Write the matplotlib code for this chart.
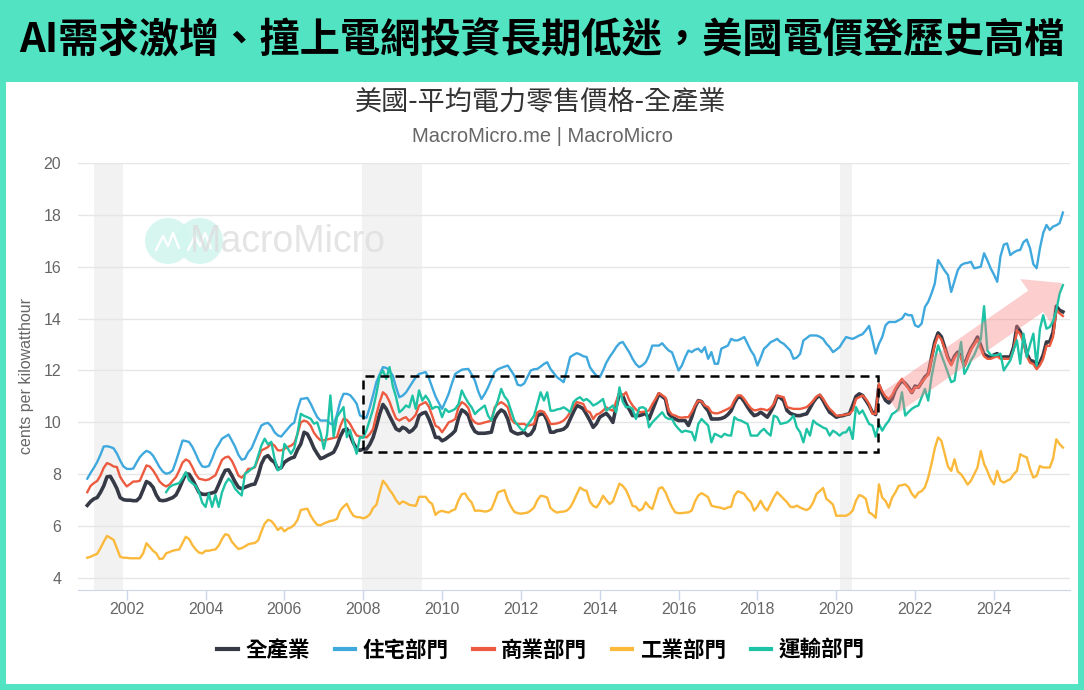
import matplotlib
matplotlib.use('Agg')
import matplotlib.pyplot as plt
from matplotlib.patches import Rectangle, Polygon, Ellipse
from matplotlib.lines import Line2D
from matplotlib.font_manager import FontProperties
import numpy as np

# monthly series, Jan 2001 .. Oct 2025 (cents per kWh), one year per row
total = [
    6.80, 6.95, 7.05, 7.10, 7.30, 7.55, 7.90, 7.92, 7.70, 7.45, 7.10, 7.02,
    7.00, 7.00, 6.98, 6.98, 7.10, 7.40, 7.72, 7.65, 7.50, 7.20, 7.00, 6.98,
    7.00, 7.05, 7.10, 7.20, 7.45, 7.75, 8.02, 8.00, 7.80, 7.55, 7.30, 7.23,
    7.22, 7.25, 7.28, 7.32, 7.60, 7.90, 8.15, 8.17, 7.95, 7.70, 7.50, 7.44,
    7.50, 7.55, 7.60, 7.62, 7.95, 8.40, 8.65, 8.72, 8.55, 8.46, 8.20, 8.25,
    8.46, 8.55, 8.62, 8.66, 8.95, 9.17, 9.62, 9.55, 9.30, 9.00, 8.79, 8.60,
    8.65, 8.72, 8.78, 8.85, 9.10, 9.45, 9.70, 9.75, 9.50, 9.20, 8.98, 8.92,
    8.97, 8.97, 9.15, 9.42, 9.85, 10.32, 10.69, 10.52, 10.25, 10.00, 9.75, 9.68,
    9.81, 9.75, 9.62, 9.70, 9.85, 10.26, 10.35, 10.39, 10.13, 9.80, 9.42, 9.42,
    9.29, 9.35, 9.45, 9.55, 9.68, 10.17, 10.48, 10.40, 10.26, 9.87, 9.65, 9.58,
    9.58, 9.58, 9.60, 9.62, 10.13, 10.35, 10.48, 10.40, 10.13, 9.68, 9.60, 9.55,
    9.58, 9.62, 9.49, 9.55, 9.74, 10.25, 10.32, 10.32, 10.07, 9.62, 9.62, 9.68,
    9.70, 9.74, 9.85, 10.13, 10.40, 10.65, 10.60, 10.52, 10.30, 10.07, 9.81, 9.95,
    10.20, 10.28, 10.35, 10.20, 10.00, 10.60, 11.10, 11.03, 10.71, 10.50, 10.26, 10.26,
    10.26, 10.30, 10.35, 10.13, 10.45, 10.78, 11.10, 11.00, 10.90, 10.33, 10.20, 10.13,
    10.07, 10.07, 10.07, 9.88, 10.20, 10.59, 10.84, 10.80, 10.60, 10.45, 10.13, 10.13,
    10.13, 10.15, 10.20, 10.30, 10.45, 10.75, 10.97, 10.97, 10.80, 10.59, 10.40, 10.26,
    10.30, 10.39, 10.30, 10.20, 10.40, 10.65, 11.00, 10.95, 10.84, 10.46, 10.35, 10.30,
    10.26, 10.26, 10.30, 10.33, 10.55, 10.78, 10.95, 11.04, 10.84, 10.60, 10.39, 10.30,
    10.20, 10.24, 10.26, 10.30, 10.33, 10.65, 11.00, 11.10, 11.04, 10.85, 10.65, 10.39,
    10.30, 11.42, 11.10, 10.85, 10.75, 10.90, 11.25, 11.45, 11.61, 11.50, 11.35, 11.15,
    11.40, 11.35, 11.55, 11.75, 11.87, 12.50, 13.10, 13.45, 13.30, 12.90, 12.50, 12.26,
    12.55, 12.71, 12.55, 12.20, 12.55, 12.85, 13.05, 13.29, 12.95, 12.62, 12.55, 12.50,
    12.60, 12.65, 12.52, 12.52, 12.52, 12.52, 12.90, 13.70, 13.50, 13.20, 12.65, 12.39,
    12.35, 12.13, 12.30, 12.60, 13.10, 13.10, 13.48, 14.48, 14.32, 14.26,
]

residential = [
    7.83, 8.05, 8.25, 8.47, 8.75, 9.07, 9.08, 9.05, 9.00, 8.80, 8.53, 8.30,
    8.21, 8.20, 8.22, 8.45, 8.66, 8.80, 8.90, 8.85, 8.72, 8.50, 8.27, 8.10,
    8.02, 8.05, 8.15, 8.50, 8.90, 9.30, 9.28, 9.24, 9.05, 8.79, 8.50, 8.30,
    8.28, 8.32, 8.60, 8.94, 9.15, 9.37, 9.45, 9.53, 9.30, 9.06, 8.75, 8.56,
    8.60, 8.85, 9.00, 9.30, 9.60, 9.88, 9.95, 9.98, 9.85, 9.62, 9.50, 9.45,
    9.60, 9.75, 9.90, 9.99, 10.50, 10.90, 10.92, 10.94, 10.72, 10.45, 10.20, 10.07,
    10.07, 10.07, 9.95, 9.90, 10.30, 10.80, 11.10, 11.10, 11.05, 10.90, 10.72, 10.27,
    10.20, 10.18, 10.58, 11.05, 11.55, 11.85, 12.13, 12.10, 12.00, 11.80, 11.35, 10.97,
    11.03, 11.15, 11.35, 11.55, 11.74, 11.87, 11.90, 11.94, 11.70, 11.35, 11.00, 10.75,
    10.52, 10.80, 11.10, 11.50, 11.87, 11.95, 12.03, 12.05, 12.06, 11.85, 11.61, 11.20,
    10.90, 11.10, 11.35, 11.65, 11.94, 12.05, 12.10, 12.15, 12.19, 12.00, 11.80, 11.45,
    11.42, 11.50, 11.75, 12.00, 12.05, 12.06, 12.15, 12.25, 12.32, 12.06, 11.90, 11.74,
    11.65, 11.55, 12.00, 12.52, 12.60, 12.67, 12.62, 12.55, 12.52, 12.13, 11.95, 11.80,
    11.74, 12.00, 12.30, 12.52, 12.70, 12.90, 13.05, 13.10, 12.90, 12.70, 12.45, 12.25,
    12.13, 12.20, 12.32, 12.58, 12.96, 12.96, 12.96, 13.05, 12.90, 12.77, 12.70, 12.35,
    12.00, 12.19, 12.51, 12.77, 12.71, 12.80, 12.84, 12.71, 12.90, 12.45, 12.71, 12.26,
    12.26, 12.84, 12.90, 12.96, 13.22, 13.16, 13.16, 13.22, 13.29, 13.03, 12.77, 12.58,
    12.19, 12.50, 12.84, 12.95, 13.09, 13.15, 13.22, 13.10, 13.03, 12.90, 12.77, 12.45,
    12.50, 12.64, 13.16, 13.25, 13.35, 13.35, 13.35, 13.30, 13.22, 13.03, 12.90, 12.71,
    12.80, 12.90, 13.10, 13.29, 13.25, 13.22, 13.28, 13.35, 13.40, 13.55, 13.72, 13.20,
    12.65, 13.03, 13.29, 13.74, 13.87, 13.87, 13.87, 13.94, 14.00, 14.19, 14.13, 14.13,
    13.74, 13.68, 13.81, 14.45, 14.65, 14.97, 15.35, 16.26, 16.06, 15.85, 15.68, 15.03,
    15.45, 15.87, 16.06, 16.13, 16.15, 16.19, 15.94, 15.97, 16.00, 16.52, 16.25, 15.94,
    15.70, 15.42, 16.40, 16.85, 16.90, 16.45, 16.55, 16.62, 16.65, 16.95, 17.05, 16.71,
    16.10, 15.94, 16.71, 17.30, 17.61, 17.42, 17.55, 17.60, 17.68, 18.09,
]

commercial = [
    7.31, 7.55, 7.66, 7.74, 7.95, 8.25, 8.43, 8.38, 8.30, 8.28, 7.90, 7.70,
    7.53, 7.62, 7.72, 7.72, 7.75, 8.05, 8.34, 8.30, 8.15, 7.95, 7.72, 7.60,
    7.53, 7.60, 7.75, 7.89, 8.15, 8.45, 8.57, 8.50, 8.27, 8.00, 7.83, 7.80,
    7.77, 7.80, 7.88, 7.96, 8.25, 8.55, 8.65, 8.68, 8.52, 8.25, 7.95, 7.87,
    8.00, 8.21, 8.21, 8.27, 8.60, 8.92, 8.98, 9.05, 9.20, 9.10, 8.92, 8.92,
    8.98, 9.05, 9.10, 9.20, 9.55, 10.00, 10.07, 10.02, 9.87, 9.60, 9.43, 9.31,
    9.31, 9.34, 9.37, 9.40, 9.43, 9.85, 10.14, 10.10, 9.94, 9.70, 9.50, 9.45,
    9.45, 9.42, 9.55, 9.74, 10.30, 10.78, 11.16, 11.05, 10.80, 10.45, 10.15, 10.07,
    10.15, 10.20, 10.05, 10.15, 10.30, 10.65, 10.72, 10.78, 10.60, 10.25, 9.87, 9.80,
    9.62, 9.80, 10.00, 10.05, 10.13, 10.58, 10.78, 10.70, 10.55, 10.13, 10.00, 9.94,
    9.96, 10.00, 10.03, 10.07, 10.58, 10.70, 10.78, 10.70, 10.58, 10.13, 9.98, 9.94,
    9.94, 9.94, 9.87, 9.90, 9.94, 10.39, 10.45, 10.40, 10.20, 9.94, 9.94, 9.96,
    10.00, 10.07, 10.20, 10.39, 10.60, 10.78, 10.75, 10.71, 10.45, 10.39, 10.13, 10.30,
    10.35, 10.45, 10.58, 10.50, 10.45, 10.80, 11.16, 11.03, 11.16, 10.85, 10.65, 10.50,
    10.39, 10.40, 10.42, 10.46, 10.70, 10.91, 11.13, 11.05, 10.95, 10.46, 10.30, 10.26,
    10.20, 10.18, 10.20, 10.20, 10.40, 10.65, 10.84, 10.80, 10.65, 10.59, 10.39, 10.35,
    10.35, 10.40, 10.46, 10.52, 10.59, 10.85, 11.04, 11.04, 10.90, 10.71, 10.55, 10.46,
    10.48, 10.52, 10.50, 10.46, 10.55, 10.71, 11.04, 11.00, 10.97, 10.59, 10.55, 10.52,
    10.52, 10.52, 10.55, 10.59, 10.70, 10.84, 11.00, 11.07, 10.91, 10.70, 10.52, 10.40,
    10.26, 10.26, 10.28, 10.30, 10.33, 10.46, 10.90, 10.97, 11.04, 10.90, 10.71, 10.33,
    10.33, 11.48, 11.20, 11.00, 10.90, 11.05, 11.30, 11.50, 11.68, 11.48, 11.30, 11.16,
    11.35, 11.35, 11.55, 11.70, 11.85, 12.45, 13.00, 13.35, 13.20, 12.84, 12.45, 12.20,
    12.50, 12.65, 12.50, 12.15, 12.50, 12.80, 13.00, 13.20, 12.85, 12.55, 12.45, 12.45,
    12.50, 12.55, 12.45, 12.45, 12.45, 12.45, 12.80, 13.55, 13.40, 13.10, 12.55, 12.30,
    12.25, 12.05, 12.20, 12.45, 12.95, 12.95, 13.30, 14.35, 14.20, 14.10,
]

industrial = [
    4.78, 4.82, 4.88, 4.93, 5.15, 5.40, 5.62, 5.55, 5.47, 5.15, 4.82, 4.78,
    4.78, 4.76, 4.76, 4.76, 4.76, 4.95, 5.34, 5.20, 5.05, 4.95, 4.73, 4.75,
    4.95, 5.00, 5.05, 5.08, 5.10, 5.35, 5.59, 5.50, 5.27, 5.10, 4.98, 4.95,
    5.05, 5.05, 5.08, 5.10, 5.25, 5.50, 5.69, 5.65, 5.40, 5.25, 5.12, 5.15,
    5.22, 5.30, 5.33, 5.35, 5.45, 5.79, 6.10, 6.24, 6.20, 6.05, 5.85, 5.95,
    5.80, 5.90, 5.95, 6.05, 6.24, 6.62, 6.65, 6.67, 6.40, 6.20, 6.05, 6.03,
    6.10, 6.15, 6.20, 6.22, 6.28, 6.60, 6.75, 6.86, 6.60, 6.40, 6.35, 6.34,
    6.30, 6.35, 6.45, 6.70, 6.82, 7.30, 7.75, 7.60, 7.40, 7.23, 7.00, 6.85,
    6.95, 6.90, 6.82, 6.80, 6.78, 7.13, 7.13, 7.13, 6.95, 6.85, 6.43, 6.55,
    6.59, 6.55, 6.52, 6.60, 6.65, 7.00, 7.23, 7.26, 7.05, 6.91, 6.59, 6.60,
    6.59, 6.56, 6.58, 6.65, 6.95, 7.30, 7.35, 7.39, 7.00, 6.75, 6.55, 6.50,
    6.48, 6.50, 6.52, 6.60, 6.72, 7.00, 7.17, 7.15, 7.10, 6.70, 6.59, 6.52,
    6.55, 6.56, 6.60, 6.72, 6.95, 7.23, 7.49, 7.40, 7.36, 6.95, 6.78, 6.72,
    6.90, 7.17, 7.00, 6.85, 6.95, 7.30, 7.64, 7.55, 7.39, 7.10, 6.78, 6.75,
    6.60, 6.66, 6.92, 6.75, 6.66, 7.05, 7.45, 7.50, 7.31, 7.00, 6.73, 6.53,
    6.50, 6.50, 6.52, 6.53, 6.60, 6.95, 7.18, 7.27, 7.20, 7.11, 6.79, 6.75,
    6.73, 6.70, 6.66, 6.72, 6.75, 7.18, 7.34, 7.30, 7.24, 7.05, 6.92, 6.60,
    6.75, 6.98, 6.73, 6.60, 6.85, 7.11, 7.31, 7.18, 7.05, 6.92, 6.75, 6.73,
    6.79, 6.72, 6.66, 6.62, 6.70, 6.92, 7.24, 7.35, 7.47, 7.05, 6.95, 6.83,
    6.40, 6.40, 6.40, 6.40, 6.47, 6.60, 6.98, 7.20, 7.15, 7.05, 6.53, 6.45,
    6.32, 7.61, 7.10, 6.97, 6.71, 7.10, 7.30, 7.55, 7.58, 7.61, 7.50, 7.25,
    7.10, 7.29, 7.35, 7.50, 7.87, 8.40, 9.00, 9.42, 9.29, 8.80, 8.30, 8.13,
    8.58, 8.10, 8.00, 7.81, 7.60, 7.75, 8.00, 8.26, 8.90, 8.40, 8.13, 7.81,
    7.61, 8.13, 7.75, 7.68, 7.75, 7.81, 8.00, 8.13, 8.77, 8.70, 8.65, 8.20,
    7.87, 7.94, 8.32, 8.26, 8.26, 8.26, 8.60, 9.35, 9.16, 9.03,
]

# transportation starts Jan 2003
transport = [
    7.31, 7.50, 7.58, 7.62, 7.66, 7.85, 8.08, 7.76, 7.65, 7.55, 7.31, 6.90,
    6.74, 7.25, 6.74, 7.20, 6.74, 7.30, 7.63, 7.83, 7.70, 7.44, 7.30, 7.18,
    8.02, 8.10, 8.21, 8.30, 8.70, 9.11, 9.37, 9.15, 9.25, 8.60, 8.15, 8.25,
    9.17, 9.00, 8.79, 9.00, 9.60, 10.33, 10.25, 10.20, 10.14, 9.95, 10.00, 9.60,
    8.98, 9.55, 11.04, 9.45, 10.20, 10.40, 10.59, 9.43, 9.70, 9.20, 8.79, 9.43,
    9.40, 9.70, 10.10, 10.52, 11.10, 11.80, 12.00, 11.68, 12.13, 11.40, 10.97, 10.39,
    10.50, 10.65, 10.58, 11.03, 10.52, 11.23, 10.84, 11.03, 10.84, 10.52, 10.60, 10.58,
    10.20, 10.52, 10.40, 10.45, 10.52, 10.70, 11.23, 10.97, 10.75, 10.58, 10.32, 10.45,
    10.55, 10.65, 10.26, 10.07, 10.50, 10.84, 11.29, 11.00, 10.84, 10.45, 10.07, 9.90,
    9.74, 9.68, 9.90, 10.07, 10.26, 10.70, 11.16, 10.84, 11.16, 10.45, 10.45, 10.50,
    10.52, 10.58, 10.50, 10.39, 10.78, 10.90, 10.97, 10.84, 10.90, 10.80, 10.65, 10.71,
    10.80, 10.90, 10.45, 10.55, 10.65, 10.39, 11.35, 10.80, 10.58, 10.60, 10.52, 10.13,
    10.55, 10.59, 10.52, 9.81, 10.00, 10.13, 10.26, 10.39, 10.20, 10.13, 10.13, 9.90,
    9.75, 9.62, 9.68, 9.65, 9.62, 9.30, 9.94, 10.13, 10.00, 9.88, 9.23, 9.56,
    9.50, 9.43, 9.56, 9.50, 9.49, 10.20, 10.10, 10.07, 10.00, 9.94, 9.49, 9.49,
    9.49, 9.65, 9.75, 9.60, 9.49, 10.26, 10.20, 9.94, 9.97, 10.00, 10.10, 10.26,
    9.80, 9.62, 9.23, 9.75, 9.49, 10.07, 9.95, 9.88, 9.80, 9.75, 9.49, 9.68,
    9.60, 9.49, 9.60, 9.62, 9.81, 9.36, 10.59, 10.33, 10.46, 10.20, 9.94, 9.88,
    9.45, 9.94, 9.68, 9.90, 10.06, 10.32, 10.40, 10.52, 11.16, 10.26, 10.40, 10.52,
    10.60, 10.65, 10.97, 11.29, 10.84, 11.74, 12.40, 12.97, 12.60, 12.26, 11.90, 11.55,
    11.61, 12.40, 13.10, 11.87, 12.10, 12.39, 12.60, 12.90, 13.20, 14.48, 12.77, 12.60,
    12.58, 12.60, 12.65, 12.00, 12.20, 12.39, 12.80, 13.16, 12.26, 13.42, 12.52, 13.00,
    13.42, 12.19, 13.60, 14.13, 13.61, 13.68, 13.90, 14.32, 14.97, 15.29,
]

labels = ['全產業', '住宅部門', '商業部門', '工業部門', '運輸部門']
colors = ['#363a46', '#3fa8dd', '#ec5a3f', '#fbb93b', '#1ec2a4']
recessions = [(2001.17, 2001.90), (2007.97, 2009.49), (2020.10, 2020.40)]

CJK = ['Noto Sans CJK TC', 'DejaVu Sans']
LAT = ['Liberation Sans', 'DejaVu Sans']
W, H = 1084, 690


def fx(px):
    return px / W


def fy(py):
    return 1 - py / H


fig = plt.figure(figsize=(W / 100, H / 100), dpi=100)
fig.patch.set_facecolor('#52e3c3')
fig.add_artist(Rectangle((fx(6), fy(684)), (1078 - 6) / W, (684 - 82) / H,
                         transform=fig.transFigure, facecolor='white',
                         edgecolor='none', zorder=-5))

fig.text(fx(542), fy(41), 'AI需求激增、撞上電網投資長期低迷，美國電價登歷史高檔',
         ha='center', va='center', fontsize=29, fontweight='bold',
         family=CJK, color='black')
fig.text(fx(541), fy(103), '美國-平均電力零售價格-全產業', ha='center',
         va='center', fontsize=19.5, family=CJK, color='#333333')
fig.text(fx(542), fy(136), 'MacroMicro.me | MacroMicro', ha='center',
         va='center', fontsize=14.5, family=LAT, color='#666666')

# watermark: two pale circles with a little white mountain, then the name
for cx in (168, 200):
    fig.add_artist(Ellipse((fx(cx), fy(241)), 46 / W, 46 / H,
                           transform=fig.transFigure, facecolor='#d3f6ee',
                           edgecolor='none', alpha=0.9, zorder=1))
    mx = [cx - 12, cx - 5, cx, cx + 5, cx + 11]
    my = [250, 236, 246, 233, 248]
    fig.add_artist(Line2D([fx(v) for v in mx], [fy(v) for v in my],
                          transform=fig.transFigure, color='white', lw=1.6,
                          zorder=1.1))
fig.text(fx(190), fy(242), 'MacroMicro', ha='left', va='center',
         fontsize=27, family=LAT, color='#dedede', alpha=0.8, zorder=1.2)

ax = fig.add_axes([fx(78), fy(590), (1070 - 78) / W, (590 - 163) / H])
ax.set_facecolor('none')

n = len(total)
x = 2001 + np.arange(n) / 12.0
x_tr = 2003 + np.arange(len(transport)) / 12.0

for a, b in recessions:
    ax.axvspan(a, b, color='#f2f2f2', lw=0, zorder=0)
for yv in range(4, 21, 2):
    ax.axhline(yv, color='#e6e6e6', lw=1, zorder=0.5)

series = [(x, total), (x, residential), (x, commercial), (x, industrial),
          (x_tr, transport)]
widths = [2.6, 1.7, 1.7, 1.7, 1.7]
for (xs, ys), c, lw in zip(series, colors, widths):
    ax.plot(xs, ys, color=c, lw=lw, zorder=3, solid_joinstyle='round')

# dashed box around the flat 2008-2020 period
ax.add_patch(Rectangle((2008.0, 8.86), 13.06, 2.93, fill=False,
                       edgecolor='black', lw=1.8, ls=(0, (3.6, 2.4)),
                       zorder=5))

# pink arrow, built in pixel space then mapped to data coords
tail = np.array([891.0, 402.0])
tip = np.array([1062.0, 283.0])
u = (tip - tail) / np.linalg.norm(tip - tail)
nrm = np.array([-u[1], u[0]])
base = tip - 32 * u
pts = [tail + 13 * nrm, base + 13 * nrm, base + 27 * nrm, tip,
       base - 27 * nrm, base - 13 * nrm, tail - 13 * nrm]
pts = [(2001 + (p[0] - 87.3) / 39.42, 20 - (p[1] - 163) / 25.94) for p in pts]
ax.add_patch(Polygon(pts, closed=True, facecolor='#f88585', edgecolor='none',
                     alpha=0.4, zorder=4))

ax.set_xlim(2000.764, 2025.93)
ax.set_ylim(3.537, 20)
ax.set_yticks(range(4, 21, 2))
ax.set_xticks(range(2002, 2025, 2))
ax.tick_params(axis='y', length=0, pad=12, labelsize=11.5, labelcolor='#666666')
ax.tick_params(axis='x', length=7, width=1, color='#ccd6eb', pad=2,
               labelsize=11.5, labelcolor='#666666')
for lab in ax.get_xticklabels() + ax.get_yticklabels():
    lab.set_family(LAT)
for s in ('left', 'right', 'top'):
    ax.spines[s].set_visible(False)
ax.spines['bottom'].set_color('#ccd6eb')
ax.set_ylabel('cents per kilowatthour', fontsize=11.5, color='#666666',
              family=LAT, labelpad=7)

handles = [Line2D([0], [0], color=c, lw=3) for c in colors]
fig.legend(handles, labels, loc='center', bbox_to_anchor=(fx(541), fy(650)),
           ncol=5, frameon=False, handlelength=0.95, handletextpad=0.35,
           columnspacing=1.15,
           prop=FontProperties(family=CJK, weight='bold', size=15.5))

fig.savefig('out.png', dpi=100, facecolor=fig.get_facecolor())
